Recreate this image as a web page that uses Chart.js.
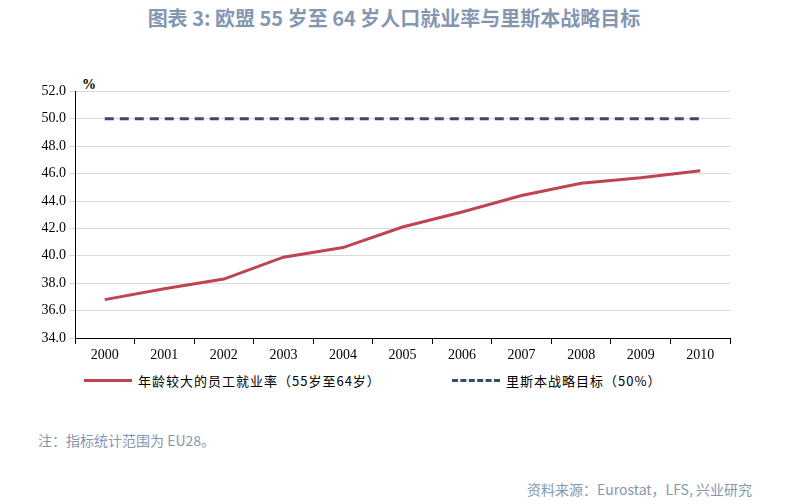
<!DOCTYPE html>
<html><head><meta charset="utf-8">
<script src="https://cdn.jsdelivr.net/npm/chart.js@4"></script>
<style>
body{margin:0;width:788px;height:504px;background:#fff;position:relative;font-family:"Noto Sans CJK SC",sans-serif;overflow:hidden}
#title{position:absolute;top:3px;left:0;width:788px;text-align:center;font-size:20px;font-weight:bold;color:#8497b0}
#wrap{position:absolute;left:0;top:80px;width:788px;height:285px}
#pct{position:absolute;left:82px;top:77px;font-family:"Liberation Serif",serif;font-size:14px;font-weight:bold;color:#000}
.lg{position:absolute;top:371px;font-size:13px;color:#000;display:flex;align-items:center;letter-spacing:1px}
#note{position:absolute;left:38px;top:430px;font-size:14px;color:#8497b0}
#src{position:absolute;right:36px;top:479px;font-size:14px;color:#8497b0}
</style></head><body>
<div id="title">图表 3: 欧盟 55 岁至 64 岁人口就业率与里斯本战略目标</div>
<div id="pct">%</div>
<div id="wrap"><canvas id="c"></canvas></div>
<div class="lg" style="left:84px"><span style="display:inline-block;width:48px;border-top:3px solid #c0444f;margin-right:6px"></span>年龄较大的员工就业率（55岁至64岁）</div>
<div class="lg" style="left:452px"><span style="display:inline-block;width:48px;border-top:3px dashed #3b4a6b;margin-right:6px"></span>里斯本战略目标（50%）</div>
<div id="note">注：指标统计范围为 EU28。</div>
<div id="src">资料来源：Eurostat，LFS, 兴业研究</div>
<script>
const years=["2000","2001","2002","2003","2004","2005","2006","2007","2008","2009","2010"];
const employment=[36.8,37.6,38.3,39.9,40.6,42.1,43.2,44.4,45.3,45.7,46.2];
const target=[50,50,50,50,50,50,50,50,50,50,50];
const tf={family:"Liberation Serif",size:14};
new Chart(document.getElementById('c'),{type:'line',
data:{labels:years,datasets:[
{data:employment,borderColor:'#c0444f',borderWidth:3,pointRadius:0,tension:0},
{data:target,borderColor:'#3b4a6b',borderWidth:3,borderDash:[9,6],pointRadius:0}]},
options:{responsive:true,maintainAspectRatio:false,animation:false,
layout:{padding:{left:0,right:58,top:10,bottom:0}},
plugins:{legend:{display:false},tooltip:{enabled:false}},
scales:{
x:{offset:true,grid:{display:true,drawOnChartArea:false,offset:true,color:'#000',tickLength:6},border:{color:'#000'},ticks:{color:'#000',font:tf,maxRotation:0},afterFit:s=>{s.height=27}},
y:{min:34,max:52,grid:{color:'#d9d9d9',tickLength:6},border:{color:'#000'},ticks:{stepSize:2,color:'#000',font:tf,callback:v=>v.toFixed(1)},afterFit:s=>{s.width=75}}
}}});
</script></body></html>
